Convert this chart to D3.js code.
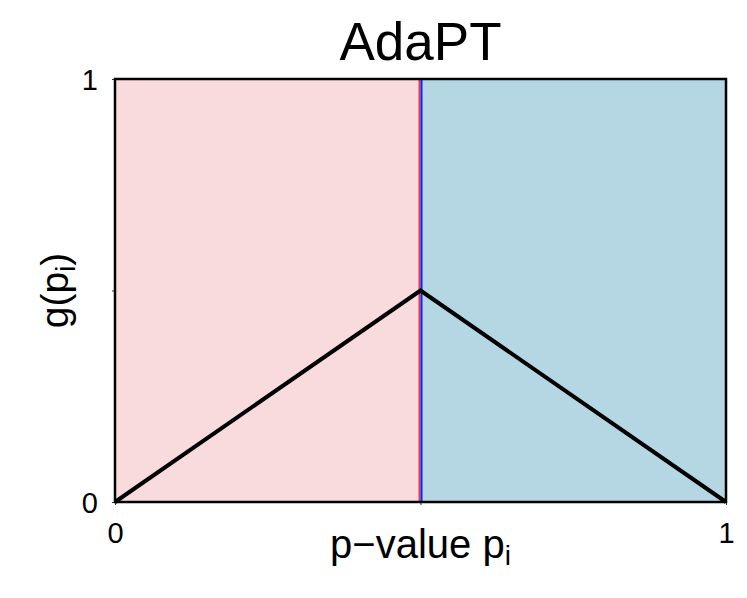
<!DOCTYPE html>
<html><head><meta charset="utf-8">
<script src="https://cdn.jsdelivr.net/npm/d3@7"></script>
<style>body{margin:0;background:#fff}svg{display:block}text{font-family:"Liberation Sans",Arial,sans-serif;fill:#000}</style>
</head><body>
<script>
const title = "AdaPT";
const pValues = [0, 0.5, 1];
const gValues = [0, 0.5, 0];
const threshold = 0.5;
const regionStarts = [0, 0.5];
const regionEnds = [0.5, 1];
const regionColors = ["#F9DBDD", "#B5D7E3"];
const xTicks = [0, 0.5, 1];
const xTickLabels = ["0", "", "1"];
const yTicks = [0, 0.5, 1];
const yTickLabels = ["0", "", "1"];

const W = 747, H = 598;
const svg = d3.select("body").append("svg").attr("width", W).attr("height", H);
const x = d3.scaleLinear().domain([0, 1]).range([115, 726]);
const y = d3.scaleLinear().domain([0, 1]).range([502, 79]);

// regions
svg.selectAll("rect.region").data(regionStarts).join("rect")
  .attr("x", (d) => x(d)).attr("y", y(1))
  .attr("width", (d, i) => x(regionEnds[i]) - x(d))
  .attr("height", y(0) - y(1))
  .attr("fill", (d, i) => regionColors[i]);

// threshold lines
svg.append("line").attr("x1", x(threshold) - 1).attr("x2", x(threshold) - 1)
  .attr("y1", y(0)).attr("y2", y(1)).attr("stroke", "#E0404C").attr("stroke-width", 2);
svg.append("line").attr("x1", x(threshold) + 1).attr("x2", x(threshold) + 1)
  .attr("y1", y(0)).attr("y2", y(1)).attr("stroke", "#1A1AFF").attr("stroke-width", 2);

// curve
svg.append("path").datum(pValues.map((p, i) => [p, gValues[i]]))
  .attr("d", d3.line().x(d => x(d[0])).y(d => y(d[1])))
  .attr("fill", "none").attr("stroke", "#000").attr("stroke-width", 4)
  .attr("stroke-linejoin", "miter");

// axes
const xAxis = d3.axisBottom(x).tickValues(xTicks).tickSize(3).tickFormat((d, i) => xTickLabels[i]);
const gx = svg.append("g").attr("transform", `translate(0,${y(0)})`).call(xAxis);
gx.select(".domain").remove();
gx.selectAll("line").attr("stroke", "#333");
gx.selectAll("text").attr("font-size", 29).attr("dy", null).attr("y", 41).style("font-family", "Liberation Sans, Arial, sans-serif");

const yAxis = d3.axisLeft(y).tickValues(yTicks).tickSize(3).tickFormat((d, i) => yTickLabels[i]);
const gy = svg.append("g").attr("transform", `translate(${x(0)},0)`).call(yAxis);
gy.select(".domain").remove();
gy.selectAll("line").attr("stroke", "#333");
gy.selectAll("text").attr("font-size", 29).attr("x", -17).attr("dy", "0.36em").style("font-family", "Liberation Sans, Arial, sans-serif");

// box
svg.append("rect").attr("x", x(0)).attr("y", y(1)).attr("width", x(1) - x(0)).attr("height", y(0) - y(1))
  .attr("fill", "none").attr("stroke", "#000").attr("stroke-width", 2.5);

// title
svg.append("text").attr("x", (x(0) + x(1)) / 2).attr("y", 60).attr("text-anchor", "middle")
  .attr("font-size", 53).text(title);

// x label
const xl = svg.append("text").attr("x", (x(0) + x(1)) / 2).attr("y", 558).attr("text-anchor", "middle").attr("font-size", 40);
xl.append("tspan").text("p\u2212value p");
xl.append("tspan").attr("font-size", 28).attr("dy", 7).text("i");

// y label
const yl = svg.append("text").attr("transform", `translate(68,${(y(0) + y(1)) / 2}) rotate(-90)`)
  .attr("text-anchor", "middle").attr("font-size", 39);
yl.append("tspan").text("g(p");
yl.append("tspan").attr("font-size", 27).attr("dy", 7).text("i");
yl.append("tspan").attr("dy", -7).text(")");
</script>
</body></html>
